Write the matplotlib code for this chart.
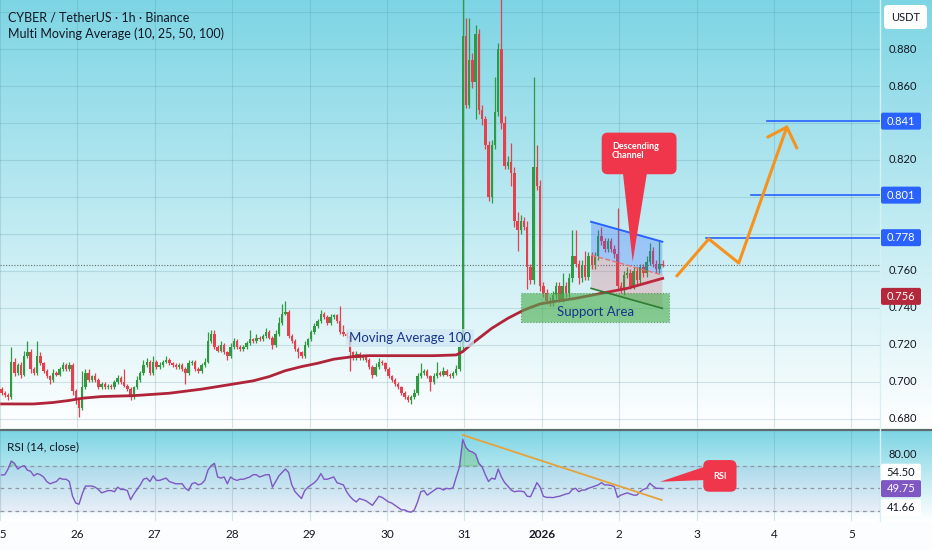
import numpy as np
import matplotlib.pyplot as plt
from matplotlib.patches import FancyBboxPatch, Polygon, Rectangle

plt.rcParams['font.family'] = ['Lato', 'DejaVu Sans']

# hourly candles from Dec 25 00:00, prices in 1/1000 USDT, open = previous close
first_open = 696
closes = [
    694, 693, 692, 711, 705, 709, 704, 714, 716, 707, 705, 714, 710, 706, 703, 701, 705, 704, 707, 709, 707, 709, 695, 690,
    686, 697, 705, 701, 703, 701, 697, 699, 697, 698, 697, 700, 702, 700, 698, 696, 692, 697, 701, 705, 709, 711, 705, 711,
    708, 709, 711, 712, 710, 709, 708, 709, 707, 705, 710, 711, 707, 706, 709, 711, 722, 726, 719, 717, 720, 716, 714, 719,
    722, 719, 718, 719, 721, 723, 722, 724, 723, 725, 727, 724, 720, 726, 732, 737, 738, 725, 722, 718, 716, 714, 720, 723,
    727, 730, 733, 737, 735, 732, 735, 736, 733, 727, 726, 725, 716, 713, 715, 713, 714, 712, 708, 704, 708, 711, 710, 707,
    703, 701, 699, 697, 694, 692, 690, 692, 694, 703, 705, 706, 703, 700, 703, 705, 704, 706, 704, 703, 705, 707, 719, 887,
    850, 874, 862, 888, 847, 842, 828, 800, 828, 846, 880, 840, 817, 819, 813, 787, 782, 787, 784, 762, 755, 816, 806, 752,
    748, 744, 743, 747, 752, 745, 752, 748, 756, 768, 764, 756, 763, 757, 768, 763, 768, 779, 776, 772, 776, 772, 769, 752,
    750, 758, 759, 752, 760, 755, 762, 759, 765, 771, 764, 761, 764, 763,
]
hi_wick = [
    1, 1, 1, 8, 2, 1, 2, 3, 6, 2, 1, 8, 2, 1, 1, 1, 2, 1, 1, 2, 1, 2, 1, 1,
    1, 9, 2, 2, 1, 2, 1, 1, 1, 1, 1, 1, 2, 1, 7, 1, 1, 1, 2, 1, 3, 2, 1, 3,
    1, 2, 1, 2, 1, 1, 1, 1, 1, 1, 2, 1, 1, 1, 1, 2, 5, 2, 2, 1, 2, 1, 1, 2,
    2, 1, 1, 1, 1, 5, 1, 2, 1, 1, 2, 1, 1, 2, 3, 5, 6, 1, 1, 1, 1, 1, 2, 1,
    1, 2, 1, 2, 1, 1, 2, 1, 1, 8, 4, 1, 1, 1, 2, 1, 1, 1, 1, 1, 2, 2, 1, 1,
    1, 1, 1, 1, 1, 1, 1, 1, 2, 2, 5, 1, 1, 1, 2, 6, 1, 2, 1, 1, 1, 2, 3, 48,
    10, 23, 4, 5, 3, 3, 2, 2, 3, 19, 3, 50, 4, 3, 10, 3, 5, 3, 2, 3, 2, 49, 12, 3,
    2, 2, 2, 2, 2, 2, 7, 2, 3, 14, 14, 2, 3, 8, 2, 2, 2, 3, 5, 2, 2, 2, 2, 25,
    2, 2, 3, 2, 2, 2, 2, 2, 3, 4, 2, 2, 13, 2,
]
lo_wick = [
    1, 1, 2, 1, 2, 1, 2, 1, 1, 2, 1, 1, 1, 1, 1, 2, 1, 1, 1, 1, 1, 1, 2, 2,
    5, 1, 1, 1, 1, 1, 1, 1, 1, 1, 1, 1, 1, 1, 1, 1, 2, 1, 1, 1, 1, 1, 1, 1,
    1, 1, 1, 1, 1, 1, 1, 1, 1, 6, 1, 1, 1, 1, 1, 1, 1, 1, 1, 1, 1, 1, 2, 1,
    1, 1, 1, 1, 1, 1, 1, 1, 1, 1, 1, 1, 2, 1, 1, 1, 1, 1, 1, 1, 3, 1, 1, 1,
    1, 1, 1, 1, 1, 1, 1, 1, 1, 1, 1, 1, 10, 1, 1, 1, 1, 1, 1, 2, 1, 1, 1, 1,
    1, 1, 1, 1, 1, 1, 1, 2, 1, 1, 1, 1, 1, 5, 1, 1, 1, 1, 1, 1, 1, 1, 1, 2,
    2, 2, 3, 20, 2, 3, 2, 2, 3, 2, 2, 3, 2, 2, 7, 3, 11, 2, 2, 12, 2, 2, 2, 3,
    2, 2, 2, 2, 2, 2, 2, 2, 2, 2, 2, 3, 2, 2, 2, 2, 2, 2, 2, 2, 2, 2, 2, 2,
    2, 3, 2, 2, 2, 2, 2, 2, 2, 2, 2, 2, 2, 1,
]
rsi = [
    61.8, 62, 67, 74, 72, 67, 69, 70, 66, 65, 61, 63, 62, 60, 56, 54, 55, 56, 59, 58, 58, 56, 43, 37,
    36, 45, 52, 52, 52, 51, 49, 46, 47, 48, 48, 47, 51, 49, 49, 48, 40, 45, 49, 53, 58, 59, 56, 61,
    57, 57, 58, 59, 56, 55, 54, 54, 54, 50, 48, 54, 55, 53, 54, 57, 66, 70, 72, 60, 59, 60, 54, 60,
    58, 57, 58, 58, 59, 60, 62, 62, 60, 61, 62, 62, 51, 56, 61, 64, 67, 64, 53, 47, 44, 41, 48, 51,
    53, 55, 58, 63, 58, 58, 59, 60, 55, 54, 53, 47, 43, 40, 38, 41, 40, 39, 37, 35, 39, 43, 42, 40,
    38, 37, 35, 33, 31, 31, 29.5, 29, 31, 38, 47, 48, 44, 46, 48, 50, 50, 48.5, 50, 49.5, 50.5, 60, 69, 93,
    86, 83, 82, 80, 72, 69, 62, 56, 59, 58, 67, 60, 55, 52, 48.5, 47, 47.5, 47.5, 47, 43, 42.6, 48.5, 55, 51,
    43, 42, 42, 41.8, 42.5, 43, 44, 45, 45.6, 49, 50, 47, 48.5, 48.5, 50, 51, 52, 53, 55, 53, 53, 52.5, 51.5, 42,
    44, 45, 46, 45, 44, 44, 47, 49, 50, 54.5, 52, 50, 50, 49.75,
]
ma_hours = [0, 10, 16, 21, 25, 31, 41, 52, 62, 72, 78, 83, 88, 93, 98, 103, 109, 114,
            124, 134, 141, 143, 146, 152, 157, 162, 167, 171, 178, 186, 194, 205]
ma_vals = [0.6881, 0.6881, 0.6889, 0.6900, 0.6912, 0.6921, 0.6926, 0.6939, 0.6961, 0.6989,
           0.7006, 0.7029, 0.7061, 0.7083, 0.7101, 0.7123, 0.7137, 0.7142, 0.7142, 0.7142,
           0.7146, 0.7164, 0.7209, 0.7290, 0.7344, 0.7389, 0.7422, 0.7434, 0.7452, 0.7479,
           0.7506, 0.7560]
day_labels = ['25', '26', '27', '28', '29', '30', '31', '2026', '2', '3', '4', '5']
price_ticks = [0.66, 0.68, 0.70, 0.72, 0.74, 0.76, 0.78, 0.80, 0.82, 0.84, 0.86, 0.88, 0.90]
targets = [0.841, 0.801, 0.778]
target_start = [237.5, 232.4, 218.4]
rsi_side = [54.50, 41.66]

W, H = 932, 550
GREEN, RED = '#2f9a41', '#e4404e'
CALL = '#f0364a'
GRID = (0.30, 0.55, 0.60, 0.22)

fig = plt.figure(figsize=(W / 100, H / 100), dpi=100)

# background gradient (cyan on top fading to white in each pane)
bg = fig.add_axes([0, 0, 1, 1], zorder=0)
bg.set_xlim(0, W)
bg.set_ylim(H, 0)
bg.axis('off')
img = np.ones((H, W, 3))
cyan = np.array([0.49, 0.835, 0.895])
for y0, y1 in [(0, 429), (430, 521)]:
    t = np.linspace(0, 1, y1 - y0)[:, None, None]
    img[y0:y1] = cyan * (1 - t) + t
img[521:] = [0.985, 0.995, 1.0]
bg.imshow(img, extent=(0, W, H, 0), aspect='auto')
bg.plot([0, W], [429.5, 429.5], color='#5d6b70', lw=1.6)
bg.plot([880, 880], [0, 521], color='#d6f1f6', lw=1)

ax = fig.add_axes([0, 122 / H, 880 / W, 428 / H], zorder=1)
ax2 = fig.add_axes([0, 29 / H, 880 / W, 91 / H], zorder=1)
for a in (ax, ax2):
    a.patch.set_alpha(0)
    for s in a.spines.values():
        s.set_visible(False)
    a.set_xlim(-0.5, 272.4)
ax.set_ylim(0.6751, 0.9065)
ax2.set_ylim(21.2, 101.4)
ax.set_xticks([])
ax.set_yticks([])
ax2.set_yticks([])

tick_pos = [24 * k - 0.5 for k in range(len(day_labels))]
for a in (ax, ax2):
    for tp in tick_pos:
        a.axvline(tp, color=GRID, lw=0.8, zorder=0)
for p in price_ticks:
    ax.axhline(p, color=GRID, lw=0.8, zorder=0)

ax2.set_xticks(tick_pos)
ax2.set_xticklabels(day_labels, fontsize=8.5, color='#131722')
ax2.tick_params(axis='x', length=0, pad=6)
ax2.get_xticklabels()[day_labels.index('2026')].set_fontweight('bold')

# candles
c = np.array(closes) / 1000
o = np.r_[first_open / 1000, c[:-1]]
hi = np.maximum(o, c) + np.array(hi_wick) / 1000
lo = np.minimum(o, c) - np.array(lo_wick) / 1000
idx = np.arange(len(c))
col = np.where(c >= o, GREEN, RED)
ax.vlines(idx, lo, hi, colors=col, lw=0.9, zorder=3)
ax.bar(idx, c - o, bottom=o, width=0.75, color=col, zorder=3)

ax.plot(ma_hours, ma_vals, color='#b0243a', lw=2, zorder=4)
ax.axhline(c[-1], color='#5f6f75', lw=0.8, ls=(0, (1, 1.5)), zorder=2)

# support area
ax.add_patch(Rectangle((161.0, 0.7326), 46.0, 0.0153, fc='#4caf50', alpha=0.62,
                       ec='#2e7d32', ls=':', lw=0.8, zorder=5))
ax.text(184.3, 0.7378, 'Support Area', color='#17358a', fontsize=9.5,
        ha='center', va='center', zorder=6)

# descending channel
cx = [182.8, 204.9]
ch_top, ch_mid, ch_bot = [0.7866, 0.7758], [0.7686, 0.7578], [0.7506, 0.7398]
ax.add_patch(Polygon(list(zip(cx, ch_top)) + list(zip(cx[::-1], ch_mid[::-1])),
                     fc='#2962ff', alpha=0.28, ec='none', zorder=4))
ax.add_patch(Polygon(list(zip(cx, ch_mid)) + list(zip(cx[::-1], ch_bot[::-1])),
                     fc='#f23645', alpha=0.2, ec='none', zorder=4))
ax.plot(cx, ch_top, color='#2962ff', lw=1.4, zorder=5)
ax.plot(cx, ch_mid, color='#e57373', lw=1, ls='--', zorder=5)
ax.plot(cx, ch_bot, color='#2e7d32', lw=1.2, zorder=5)

ax.text(107.7, 0.7238, 'Moving Average 100', color='#17358a', fontsize=9.5,
        ha='left', va='center', zorder=6,
        bbox=dict(boxstyle='square,pad=0.2', fc='#cfe7f5', ec='none', alpha=0.75))

# projected path
path_h = [209.4, 219.3, 228.6, 243.5]
path_p = [0.7573, 0.7773, 0.7643, 0.8378]
ORANGE = '#f7921c'
ax.plot(path_h, path_p, color=ORANGE, lw=2.2, zorder=6, solid_capstyle='round')
ax.plot([237.6, path_h[-1], 246.6], [0.8324, path_p[-1], 0.8265], color=ORANGE,
        lw=2.2, zorder=6, solid_capstyle='round')

for lvl, st in zip(targets, target_start):
    ax.plot([st, 272.4], [lvl, lvl], color='#2962ff', lw=1.2, zorder=5)

# RSI pane
r = np.array(rsi)
ax2.axhspan(30, 70, color='#7e57c2', alpha=0.07, zorder=0)
for lv in (70, 50, 30):
    ax2.axhline(lv, color='#8c9aa0', lw=0.9, ls=(0, (3, 3)), zorder=1)
ax2.fill_between(idx, r, 70, where=r > 70, interpolate=True, color='#4caf50',
                 alpha=0.3, zorder=2)
ax2.plot(idx, r, color='#7e57c2', lw=1, zorder=3)
ax2.plot([143.0, 204.7], [97.0, 39.7], color='#e6a23c', lw=1.3, zorder=4)

# overlay for labels and callouts (pixel coordinates)
top = fig.add_axes([0, 0, 1, 1], zorder=5)
top.set_xlim(0, W)
top.set_ylim(H, 0)
top.axis('off')


def px(a, x, y):
    dx, dy = a.transData.transform((x, y))
    return dx, H - dy


def side_box(yc, txt, fc, tc):
    top.add_patch(FancyBboxPatch((881, yc - 8.5), 40, 17, boxstyle='round,pad=0,rounding_size=2',
                                 fc=fc, ec='none', zorder=3))
    top.text(901, yc, txt, ha='center', va='center', fontsize=8, color=tc, zorder=4)


# axis labels hidden under a marker box are left out
box_y = [px(ax, 0, lvl)[1] for lvl in targets]
for p in price_ticks[1:-1]:
    yp = px(ax, 0, p)[1]
    if min(abs(yp - b) for b in box_y) < 11:
        continue
    top.text(903, yp, f'{p:.3f}', ha='center', va='center',
             fontsize=8, color='#131722', zorder=2)
for lvl in targets:
    side_box(px(ax, 0, lvl)[1], f'{lvl:.3f}', '#2962ff', 'white')
side_box(px(ax, 0, ma_vals[-1])[1] + 18, f'{ma_vals[-1]:.3f}', '#b3283a', 'white')

top.add_patch(FancyBboxPatch((884, 5), 43, 24, boxstyle='round,pad=0,rounding_size=4',
                             fc='white', ec='none'))
top.text(905.5, 17.5, 'USDT', ha='center', va='center', fontsize=8, color='#131722')

top.text(903, px(ax2, 0, 80)[1], '80.00', ha='center', va='center', fontsize=8, color='#131722')
side_box(px(ax2, 0, rsi_side[0])[1] - 11, f'{rsi_side[0]:.2f}', '#ffffff', '#131722')
side_box(px(ax2, 0, rsi_side[1])[1] + 10, f'{rsi_side[1]:.2f}', '#ffffff', '#131722')
side_box(px(ax2, 0, rsi[-1])[1], f'{rsi[-1]:.2f}', '#7e57c2', 'white')

top.text(8, 17, 'CYBER / TetherUS · 1h · Binance', fontsize=9, color='#131722', va='center')
top.text(8, 34, 'Multi Moving Average (10, 25, 50, 100)', fontsize=9, color='#131722', va='center')
top.text(7, 447, 'RSI (14, close)', fontsize=8.5, color='#131722', va='center')


def callout(a, box, tip, base, label, tx, ha):
    (x0, y0), (x1, y1) = px(a, *box[0]), px(a, *box[1])
    top.add_patch(FancyBboxPatch((min(x0, x1), min(y0, y1)), abs(x1 - x0), abs(y1 - y0),
                                 boxstyle='round,pad=0,rounding_size=6', fc=CALL, ec='none'))
    top.add_patch(Polygon([px(a, *base[0]), px(a, *base[1]), px(a, *tip)],
                          closed=True, fc=CALL, ec='none'))
    top.text(*px(a, *tx), label, color='white', fontsize=6.5, fontweight='bold',
             ha=ha, va='center', linespacing=1.0)


callout(ax, [(186.1, 0.8348), (209.3, 0.8123)], (195.7, 0.7650),
        [(192.7, 0.8126), (200.1, 0.8126)], 'Descending\nChannel', (189.3, 0.8249), 'left')
callout(ax2, [(217.6, 74.9), (227.9, 47.0)], (204.2, 55.8),
        [(218.0, 69.0), (218.0, 57.3)], 'RSI', (222.8, 60.8), 'center')

fig.savefig('out.png', dpi=100)
